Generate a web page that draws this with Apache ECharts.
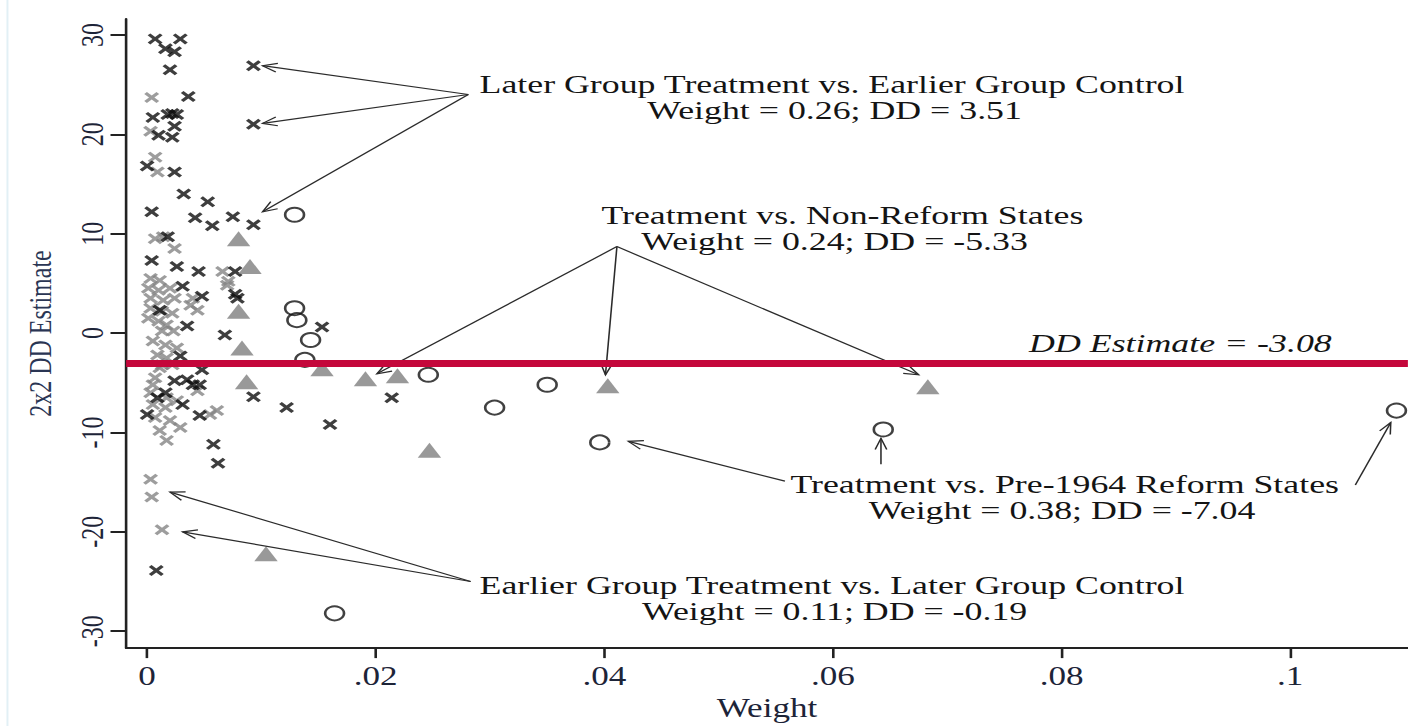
<!DOCTYPE html>
<html>
<head>
    <meta charset="utf-8">
    <title>2x2 DD Estimate vs Weight</title>
    <script src="https://cdn.jsdelivr.net/npm/echarts@6.0.0/dist/echarts.min.js"></script>
    <style>
        body { margin: 0; background: #fff; overflow: hidden; }
        /* the reference figure is stretched horizontally, so the chart is drawn narrow and widened */
        #chart { width: 1083px; height: 726px; transform: scaleX(1.3); transform-origin: 0 0; }
    </style>
</head>
<body>
    <div id="chart"></div>
    <script type="text/javascript">
        // axis ticks
        var xTickValues = [0, 0.02, 0.04, 0.06, 0.08, 0.1];
        var xTickLabels = ['0', '.02', '.04', '.06', '.08', '.1'];
        var yTickValues = [-30, -20, -10, 0, 10, 20, 30];

        // overall DD estimate
        var ddEstimate = -3.08;

        // [weight, 2x2 DD estimate]
        // later group treatment vs. earlier group control (black x)
        var laterVsEarlier = [
            [0.0007, 29.6], [0.0029, 29.6], [0.0016, 28.6], [0.0024, 28.3], [0.0020, 26.5], [0.0093, 26.9],
            [0.0036, 23.8], [0.0005, 21.7], [0.0018, 22.0], [0.0022, 22.1], [0.0026, 22.0], [0.0024, 20.8],
            [0.0093, 21.0], [0.0010, 19.9], [0.0022, 19.7], [0.0000, 16.8], [0.0024, 16.2], [0.0032, 14.0],
            [0.0053, 13.2], [0.0004, 12.2], [0.0042, 11.6], [0.0057, 10.8], [0.0075, 11.7], [0.0093, 10.9],
            [0.0018, 9.7], [0.0004, 7.3], [0.0026, 6.7], [0.0045, 6.2], [0.0077, 6.2], [0.0031, 4.7],
            [0.0048, 3.7], [0.0077, 3.9], [0.0079, 3.5], [0.0035, 0.7], [0.0068, -0.2], [0.0153, 0.6],
            [0.0029, -2.3], [0.0048, -3.7], [0.0024, -4.8], [0.0035, -4.7], [0.0040, -5.2], [0.0046, -5.2],
            [0.0009, -6.5], [0.0031, -7.2], [0.0000, -8.2], [0.0046, -8.3], [0.0093, -6.4], [0.0058, -11.2],
            [0.0062, -13.1], [0.0008, -23.9], [0.0122, -7.5], [0.0160, -9.2], [0.0214, -6.5], [0.0011, 2.3],
            [0.0016, -6.0]
        ];
        // earlier group treatment vs. later group control (grey x)
        var earlierVsLater = [
            [0.0004, 23.7], [0.0003, 20.3], [0.0007, 17.7], [0.0009, 16.2], [0.0007, 9.5], [0.0014, 9.7],
            [0.0024, 8.5], [0.0003, 5.5], [0.0011, 5.3], [0.0001, 4.5], [0.0010, 4.3], [0.0020, 4.5],
            [0.0003, 3.5], [0.0014, 3.3], [0.0024, 3.5], [0.0038, 2.8], [0.0040, 3.5], [0.0044, 2.3],
            [0.0003, 2.5], [0.0013, 2.2], [0.0022, 2.0], [0.0001, 1.5], [0.0010, 1.2], [0.0017, 0.8],
            [0.0013, 0.2], [0.0023, 0.2], [0.0005, -0.8], [0.0016, -1.2], [0.0026, -1.5], [0.0009, -2.2],
            [0.0017, -2.5], [0.0013, -3.2], [0.0022, -3.2], [0.0011, -3.5], [0.0007, -4.5], [0.0005, -5.2],
            [0.0003, -6.0], [0.0017, -6.5], [0.0026, -6.8], [0.0005, -7.2], [0.0016, -7.5], [0.0061, -7.8],
            [0.0055, -8.2], [0.0007, -8.5], [0.0020, -8.8], [0.0029, -9.5], [0.0011, -9.8], [0.0017, -10.8],
            [0.0003, -14.7], [0.0004, -16.5], [0.0013, -19.8], [0.0066, 6.2], [0.0071, 5.2], [0.0070, 4.8],
            [0.0044, -5.8]
        ];
        // treatment vs. non-reform states (grey triangles)
        var treatVsNonReform = [
            [0.0080, 9.5], [0.0090, 6.7], [0.0080, 2.2], [0.0083, -1.5], [0.0087, -4.9], [0.0153, -3.6],
            [0.0191, -4.6], [0.0219, -4.3], [0.0403, -5.3], [0.0683, -5.4], [0.0247, -11.8], [0.0104, -22.2]
        ];
        // treatment vs. pre-1964 reform states (hollow circles)
        var treatVsPre1964 = [
            [0.0129, 11.9], [0.0129, 2.5], [0.0131, 1.3], [0.0143, -0.7], [0.0138, -2.7], [0.0246, -4.2],
            [0.0350, -5.2], [0.0304, -7.5], [0.0396, -11.0], [0.0644, -9.7], [0.1093, -7.8], [0.0164, -28.2]
        ];

        // annotation arrows: [from weight, from estimate, to weight, to estimate]
        var arrows = [
            [0.0281, 24.0, 0.0101, 26.9], [0.0281, 24.0, 0.0101, 21.1], [0.0281, 24.0, 0.0101, 12.2],
            [0.0411, 8.7, 0.0201, -4.1], [0.0411, 8.7, 0.0401, -4.2], [0.0411, 8.7, 0.0675, -4.2],
            [0.0558, -14.9, 0.0421, -10.9], [0.0642, -13.2, 0.0642, -10.6], [0.1057, -15.3, 0.1088, -9.0],
            [0.0283, -25.0, 0.0020, -16.0], [0.0283, -25.0, 0.0031, -20.0]
        ];

        var noteLines = [
            'Later Group Treatment vs. Earlier Group Control', 'Weight = 0.26; DD = 3.51',
            'Treatment vs. Non-Reform States', 'Weight = 0.24; DD = -5.33',
            'DD Estimate = -3.08',
            'Treatment vs. Pre-1964 Reform States', 'Weight = 0.38; DD = -7.04',
            'Earlier Group Treatment vs. Later Group Control', 'Weight = 0.11; DD = -0.19'
        ];

        var serif = '"Liberation Serif", "DejaVu Serif", serif';
        var crossPath = 'path://M0,1.8 L1.8,0 L5,3.2 L8.2,0 L10,1.8 L6.8,5 L10,8.2 L8.2,10 L5,6.8 L1.8,10 L0,8.2 L3.2,5 Z';

        function noteText(i, x, y, italic) {
            return {
                type: 'text', x: x, y: y, scaleX: 1.08, silent: true,
                style: {
                    text: noteLines[i], fill: '#141414',
                    fontFamily: serif, fontSize: 25.5, fontStyle: italic ? 'italic' : 'normal',
                    lineHeight: 24,
                    textAlign: 'center', align: 'center',
                    textVerticalAlign: 'middle', verticalAlign: 'middle'
                }
            };
        }

        function renderArrow(params, api) {
            var a = api.coord([api.value(0), api.value(1)]);
            var b = api.coord([api.value(2), api.value(3)]);
            var ang = Math.atan2(b[1] - a[1], b[0] - a[0]);
            var len = 12, spread = 0.38;
            var h1 = [b[0] - len * Math.cos(ang - spread), b[1] - len * Math.sin(ang - spread)];
            var h2 = [b[0] - len * Math.cos(ang + spread), b[1] - len * Math.sin(ang + spread)];
            return {
                type: 'group',
                children: [
                    { type: 'line', shape: { x1: a[0], y1: a[1], x2: b[0], y2: b[1] },
                      style: { stroke: '#2b2b2b', lineWidth: 1.2 } },
                    { type: 'polyline', shape: { points: [h1, b, h2] },
                      style: { stroke: '#2b2b2b', lineWidth: 1.2, fill: null } }
                ]
            };
        }

        function xLabel(v) {
            for (var i = 0; i < xTickValues.length; i++) {
                if (Math.abs(xTickValues[i] - v) < 1e-9) return xTickLabels[i];
            }
            return '';
        }

        var option = {
            animation: false,
            backgroundColor: '#fff',
            grid: { left: 97, right: 0, top: 19, bottom: 74 },
            xAxis: {
                type: 'value', min: -0.00184, max: 0.1103,
                name: 'Weight', nameLocation: 'middle', nameGap: 40,
                nameTextStyle: { fontFamily: serif, fontSize: 27, color: '#1d2438' },
                axisLine: { show: true, onZero: false, lineStyle: { color: '#222', width: 2 } },
                axisTick: { show: true, length: 10, customValues: xTickValues, lineStyle: { color: '#222', width: 2 } },
                axisLabel: { customValues: xTickValues, formatter: xLabel, margin: 14,
                             fontFamily: serif, fontSize: 27, color: '#1d2438' },
                splitLine: { show: false }
            },
            yAxis: {
                type: 'value', min: -31.7, max: 31.6,
                name: '2x2 DD Estimate', nameLocation: 'middle', nameGap: 54,
                nameTextStyle: { fontFamily: serif, fontSize: 24, color: '#2a3553' },
                axisLine: { show: true, onZero: false, lineStyle: { color: '#222', width: 2 } },
                axisTick: { show: true, length: 12, customValues: yTickValues, lineStyle: { color: '#222', width: 2 } },
                axisLabel: { customValues: yTickValues, rotate: 90, margin: 14,
                             fontFamily: serif, fontSize: 24, color: '#1d2438' },
                splitLine: { show: false }
            },
            graphic: [
                { type: 'rect', silent: true, shape: { x: 5, y: 0, width: 1.5, height: 726 }, style: { fill: '#e2f0f5' } },
                noteText(0, 640, 84), noteText(1, 642, 110),
                noteText(2, 648, 215), noteText(3, 642, 241),
                noteText(4, 908, 343, true),
                noteText(5, 819, 484), noteText(6, 817, 510),
                noteText(7, 640, 585), noteText(8, 642, 611)
            ],
            series: [
                {
                    name: 'DD Estimate', type: 'line', data: [], z: 1, silent: true,
                    markLine: {
                        silent: true, symbol: 'none', animation: false,
                        label: { show: false },
                        lineStyle: { color: '#c4073b', width: 7, type: 'solid' },
                        data: [{ yAxis: ddEstimate }]
                    }
                },
                {
                    name: 'Earlier Group Treatment vs. Later Group Control', type: 'scatter', z: 2,
                    data: earlierVsLater, symbol: crossPath, symbolSize: [11.5, 11],
                    itemStyle: { color: '#858585' }
                },
                {
                    name: 'Later Group Treatment vs. Earlier Group Control', type: 'scatter', z: 3,
                    data: laterVsEarlier, symbol: crossPath, symbolSize: [11.5, 11],
                    itemStyle: { color: '#0e0e0e' }
                },
                {
                    name: 'Treatment vs. Non-Reform States', type: 'scatter', z: 3,
                    data: treatVsNonReform, symbol: 'triangle', symbolSize: [18, 15],
                    itemStyle: { color: '#808080' }
                },
                {
                    name: 'Treatment vs. Pre-1964 Reform States', type: 'scatter', z: 3,
                    data: treatVsPre1964, symbol: 'circle', symbolSize: [14.5, 14],
                    itemStyle: { color: 'rgba(0,0,0,0)', borderColor: '#111', borderWidth: 2 }
                },
                {
                    name: 'arrows', type: 'custom', z: 4, silent: true, clip: false,
                    renderItem: renderArrow, data: arrows,
                    encode: { x: [0, 2], y: [1, 3] }
                }
            ]
        };

        var chart = echarts.init(document.getElementById('chart'), null, { renderer: 'svg' });
        chart.setOption(option);
    </script>
</body>
</html>
